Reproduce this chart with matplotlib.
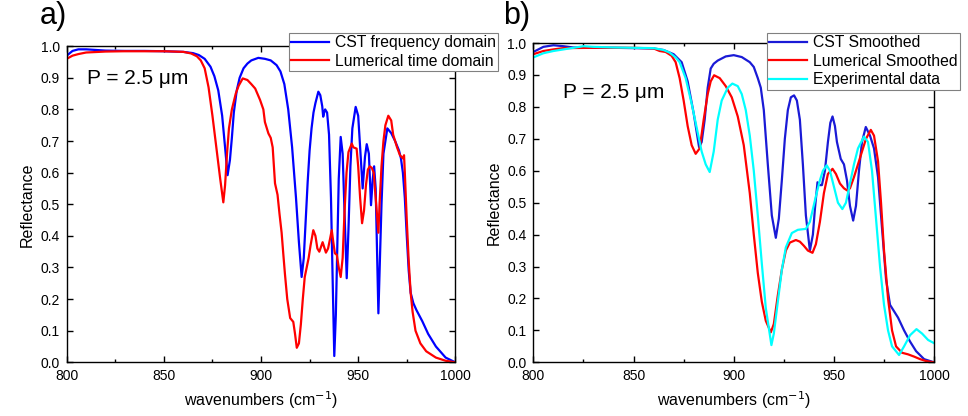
import matplotlib
matplotlib.use("Agg")
import matplotlib.pyplot as plt
from matplotlib.ticker import MultipleLocator

plt.rcParams['font.family'] = ['Liberation Sans', 'DejaVu Sans']

# panel a) raw simulations
cst_x = [800, 803, 806, 810, 815, 820, 830, 840, 850, 860, 865, 868, 871, 874, 876, 878, 880, 881.5,
         882.8, 884, 885, 886, 887.5, 889, 891, 893, 895, 898.6, 902, 905, 908, 910, 912, 914, 916,
         918, 919.5, 920.9, 922, 923, 924, 925, 926, 927, 928, 929.5, 930.5, 931.5, 932, 932.5, 933,
         934, 935, 936, 937, 937.7, 938.5, 939.2, 940, 941, 942, 943, 944.1, 945, 946, 947, 948.7,
         950, 951, 952.3, 953.5, 954.4, 955.5, 956.6, 957.5, 958.2, 959, 960.4, 961.3, 962, 963, 965,
         967, 969, 971, 972, 973, 974, 975, 976, 977, 978.4, 980, 983, 986, 990, 995, 1000]
cst_y = [0.97, 0.985, 0.99, 0.99, 0.988, 0.986, 0.985, 0.985, 0.984, 0.982, 0.978, 0.972, 0.96, 0.935,
         0.905, 0.86, 0.78, 0.68, 0.592, 0.64, 0.71, 0.79, 0.86, 0.9, 0.93, 0.945, 0.955, 0.963, 0.96,
         0.955, 0.94, 0.92, 0.88, 0.8, 0.68, 0.52, 0.38, 0.27, 0.33, 0.45, 0.57, 0.67, 0.74, 0.79, 0.82,
         0.856, 0.845, 0.81, 0.777, 0.79, 0.80, 0.79, 0.72, 0.52, 0.22, 0.02, 0.15, 0.35, 0.58, 0.713,
         0.66, 0.47, 0.266, 0.42, 0.62, 0.74, 0.808, 0.78, 0.68, 0.55, 0.65, 0.69, 0.66, 0.497, 0.58,
         0.62, 0.55, 0.155, 0.35, 0.5, 0.66, 0.74, 0.725, 0.70, 0.67, 0.645, 0.6, 0.52, 0.4, 0.29,
         0.22, 0.187, 0.165, 0.13, 0.09, 0.05, 0.015, 0.0]

lum_x = [800, 803, 806, 810, 820, 830, 840, 850, 860, 864, 867, 869, 871, 873, 875, 877, 879, 880.6,
         881.5, 882.5, 883.5, 885, 887, 888.5, 890.6, 893, 895, 897, 899.5, 901.2, 902, 903.8, 905,
         906, 907.2, 908.5, 909.5, 910.6, 911.5, 912.3, 913.5, 915, 916.6, 917.5, 918.4, 919.5, 920.5,
         921.5, 922.5, 923.5, 924.5, 925.5, 926.9, 928, 929, 930, 931.7, 933.4, 934.5, 935.5, 936.4,
         937.2, 938, 939, 940, 941, 942, 943, 944, 945, 946.7, 947.5, 949.2, 950, 951, 952, 953, 954,
         955, 956, 957, 958, 959, 960.4, 961, 962, 963, 964, 965.5, 967, 968, 970, 971.5, 973, 973.6,
         974, 975, 976, 977, 978, 979.5, 982, 985, 990, 995, 1000]
lum_y = [0.96, 0.97, 0.975, 0.98, 0.983, 0.984, 0.984, 0.984, 0.982, 0.977, 0.968, 0.955, 0.93, 0.87,
         0.78, 0.68, 0.58, 0.506, 0.56, 0.66, 0.74, 0.8, 0.85, 0.875, 0.898, 0.893, 0.88, 0.866, 0.83,
         0.8, 0.76, 0.724, 0.71, 0.68, 0.566, 0.53, 0.47, 0.41, 0.34, 0.28, 0.2, 0.14, 0.128, 0.09,
         0.046, 0.06, 0.12, 0.2, 0.27, 0.30, 0.33, 0.37, 0.418, 0.40, 0.36, 0.35, 0.38, 0.347, 0.36,
         0.39, 0.418, 0.38, 0.345, 0.34, 0.3, 0.27, 0.33, 0.48, 0.6, 0.665, 0.692, 0.68, 0.676, 0.62,
         0.52, 0.44, 0.48, 0.56, 0.61, 0.62, 0.615, 0.6, 0.52, 0.41, 0.5, 0.62, 0.7, 0.75, 0.78, 0.765,
         0.72, 0.68, 0.655, 0.645, 0.655, 0.6, 0.45, 0.32, 0.22, 0.16, 0.1, 0.06, 0.035, 0.015, 0.005,
         0.0]

# panel b) smoothed + measurement
cstS_x = [800, 805, 810, 815, 820, 830, 840, 850, 860, 865, 870, 874, 877, 880, 882.7, 884, 885.5,
          887, 888.5, 890, 892, 896, 900, 904, 908, 910, 912, 913.5, 915, 917, 919, 921, 922.5, 924,
          925.5, 927, 928.5, 930.1, 931.5, 933, 934.5, 936, 938, 939.5, 940.5, 941.8, 943, 944, 945.5,
          947, 948.2, 949.3, 950.5, 951.5, 953.4, 955, 956.5, 958, 959.6, 961, 962.5, 964, 965.9, 968,
          970, 972, 974, 976, 978, 980, 982, 985, 988, 991, 995, 1000]
cstS_y = [0.972, 0.988, 0.993, 0.99, 0.986, 0.985, 0.985, 0.984, 0.983, 0.978, 0.965, 0.94, 0.88,
          0.78, 0.674, 0.69, 0.76, 0.86, 0.92, 0.935, 0.945, 0.958, 0.962, 0.956, 0.94, 0.925, 0.89,
          0.86, 0.79, 0.62, 0.46, 0.39, 0.45, 0.57, 0.7, 0.79, 0.83, 0.836, 0.82, 0.76, 0.62, 0.46,
          0.35, 0.40, 0.48, 0.564, 0.555, 0.555, 0.6, 0.69, 0.75, 0.77, 0.74, 0.69, 0.637, 0.62, 0.57,
          0.49, 0.444, 0.49, 0.6, 0.69, 0.737, 0.71, 0.67, 0.58, 0.42, 0.26, 0.18, 0.16, 0.14, 0.1,
          0.065, 0.035, 0.01, 0.0]

lumS_x = [800, 805, 810, 815, 830, 850, 860, 863, 866, 869, 871, 873, 875, 877, 879, 881, 883, 885,
          887, 888.5, 890.2, 893, 896, 899, 902, 905, 908, 910, 912, 914, 916, 918.5, 920, 922, 924,
          926, 928, 931, 933, 935, 937, 939.3, 941, 943, 945, 947, 949.3, 951, 953, 955, 956.7, 958,
          960, 962, 964, 966, 968.4, 970, 972, 973.5, 975, 977, 979, 981, 984, 987, 990, 993, 996, 1000]
lumS_y = [0.965, 0.975, 0.98, 0.984, 0.985, 0.985, 0.983, 0.975, 0.972, 0.96, 0.94, 0.89, 0.82, 0.74,
          0.68, 0.653, 0.67, 0.76, 0.84, 0.88, 0.899, 0.89, 0.865, 0.83, 0.77, 0.68, 0.53, 0.4, 0.28,
          0.19, 0.13, 0.094, 0.12, 0.21, 0.29, 0.35, 0.375, 0.383, 0.378, 0.365, 0.35, 0.343, 0.37,
          0.44, 0.53, 0.59, 0.606, 0.59, 0.56, 0.545, 0.538, 0.545, 0.58, 0.62, 0.66, 0.70, 0.728, 0.71,
          0.63, 0.5, 0.35, 0.2, 0.1, 0.05, 0.03, 0.025, 0.018, 0.01, 0.004, 0.0]

exp_x = [800, 805, 810, 815, 820, 825, 830, 840, 850, 860, 865, 868, 871, 873, 876, 879, 882, 884,
         886, 888, 890, 892, 894, 897, 899.3, 902, 904, 906, 908, 910, 912, 914, 916, 918.8, 920, 922,
         924, 926, 929, 932, 936, 938, 941, 943, 944.5, 946.4, 948, 950, 952, 954.2, 956, 958, 960,
         962, 965, 967, 969, 971, 973, 975, 977, 979, 982.5, 985, 988, 991.2, 994, 997, 1000]
exp_y = [0.955, 0.968, 0.975, 0.98, 0.985, 0.99, 0.988, 0.986, 0.985, 0.984, 0.978, 0.97, 0.955, 0.94,
         0.89, 0.81, 0.72, 0.66, 0.62, 0.596, 0.66, 0.76, 0.82, 0.86, 0.873, 0.865, 0.84, 0.79, 0.71,
         0.6, 0.46, 0.31, 0.17, 0.054, 0.09, 0.19, 0.29, 0.36, 0.405, 0.415, 0.418, 0.44, 0.52, 0.57,
         0.6, 0.617, 0.6, 0.55, 0.5, 0.48, 0.5, 0.56, 0.62, 0.67, 0.707, 0.69, 0.6, 0.45, 0.3, 0.18,
         0.1, 0.05, 0.023, 0.05, 0.085, 0.104, 0.09, 0.07, 0.06]


def style_axes(ax):
    ax.set_xlim(800, 1000)
    ax.set_ylim(0, 1.0)
    ax.xaxis.set_major_locator(MultipleLocator(50))
    ax.xaxis.set_minor_locator(MultipleLocator(25))
    ax.yaxis.set_major_locator(MultipleLocator(0.1))
    ax.yaxis.set_major_formatter(plt.FormatStrFormatter('%.1f'))
    ax.tick_params(which='both', direction='in', top=True, right=True, labelsize=10, pad=5)
    ax.tick_params(which='major', length=4, width=1)
    ax.tick_params(which='minor', length=2.5, width=1)
    for s in ax.spines.values():
        s.set_linewidth(1.0)
    ax.set_xlabel('wavenumbers (cm$^{-1}$)', fontsize=11.5)
    ax.set_ylabel('Reflectance', fontsize=11.5)


fig = plt.figure(figsize=(9.68, 4.16), dpi=100)
ax1 = fig.add_axes([0.0689, 0.129, 0.4015, 0.760])
ax2 = fig.add_axes([0.551, 0.129, 0.414, 0.7676])

ax1.plot(cst_x, cst_y, color='#0000ff', lw=1.6, label='CST frequency domain')
ax1.plot(lum_x, lum_y, color='#ff0000', lw=1.6, label='Lumerical time domain')
style_axes(ax1)
ax1.text(810.4, 0.899, 'P = 2.5 \u03bcm', fontsize=15, va='center')

ax2.plot(cstS_x, cstS_y, color='#1a1ad6', lw=1.6, label='CST Smoothed')
ax2.plot(lumS_x, lumS_y, color='#ff0000', lw=1.6, label='Lumerical Smoothed')
ax2.plot(exp_x, exp_y, color='#00ffff', lw=1.6, label='Experimental data')
style_axes(ax2)
ax2.text(814.8, 0.846, 'P = 2.5 \u03bcm', fontsize=15, va='center')

for ax, x0 in ((ax1, 0.2986), (ax2, 0.7924)):
    leg = ax.legend(loc='upper left', bbox_to_anchor=(x0, 0.9207), bbox_transform=fig.transFigure,
                    fontsize=11.3, fancybox=False, framealpha=1, edgecolor='#808080',
                    handlelength=2.4, handletextpad=0.35, borderpad=0.15, labelspacing=0.22,
                    borderaxespad=0)
    leg.get_frame().set_linewidth(0.8)
    leg.set_zorder(10)

fig.text(0.041, 0.943, 'a)', fontsize=22, va='baseline')
fig.text(0.5196, 0.943, 'b)', fontsize=22, va='baseline')

fig.savefig('out.png', dpi=100)
